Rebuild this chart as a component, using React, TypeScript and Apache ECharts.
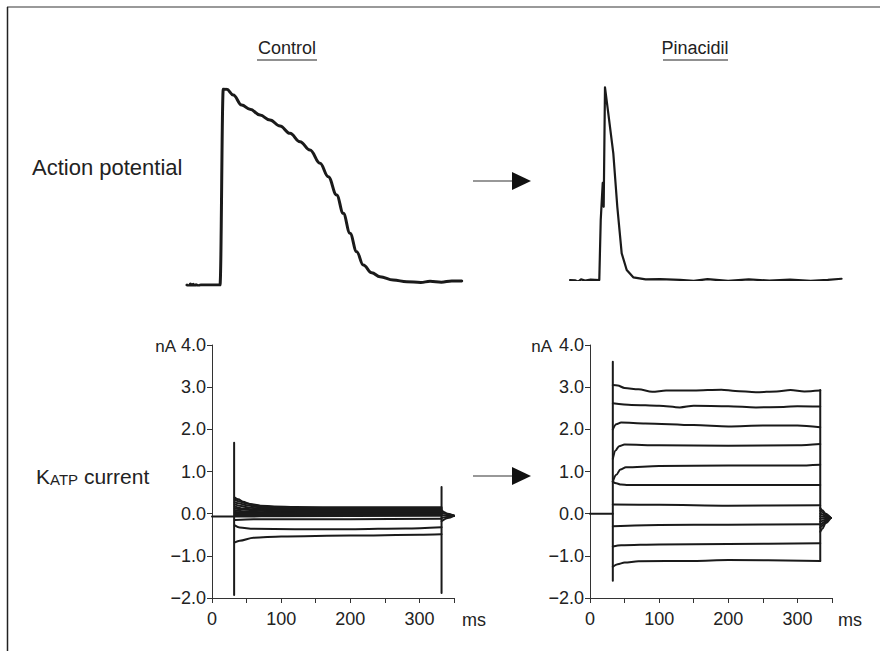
import React, { useEffect, useRef } from "react";
import * as echarts from "echarts";

// ---- Action potentials (time ms, membrane potential mV) ----
const controlAP: [number, number][] = [
  [0, -85], [3, -85.8], [5, -84.4], [7, -85.8], [9, -84.6], [11, -85.8], [13, -84.8], [16, -85.5], [20, -85], [48, -85],
  [52.8, 40], [57.7, 39.8], [67.3, 36.2], [79.5, 29.8], [91.6, 27.1], [106.2, 23.4], [120.7, 20.2],
  [135.3, 16.4], [149.8, 11.7], [164.4, 6.4], [178.9, 1.1], [193.5, -7.4], [205.5, -15.9], [217.7, -27.6],
  [227.3, -39.3], [237.1, -52], [246.8, -63.8], [256.4, -72.3], [268.7, -77.2], [280.7, -79.7],
  [300, -81.8], [319.6, -82.9], [340, -83.4], [353.5, -82.6], [370, -83.2], [385, -82.4], [399.6, -82.5],
];
const pinacidilAP: [number, number][] = [
  [0, -85], [8, -85.3], [12, -86], [16, -84.6], [22, -85.4], [30, -84.8], [42.6, -85],
  [44.7, -46.7], [47.6, -23.1], [49, -38.3], [50.9, 37.9], [55.7, 21.3], [63, -4.2], [68.8, -38.3],
  [75.2, -68], [82.5, -78.6], [92, -83.3], [110, -84.6], [131, -84.4], [160, -84.9], [180, -85.6],
  [200, -84.5], [230, -85.6], [260, -84.6], [290, -85.4], [320, -84.8], [350, -85.5], [375, -84.9], [395, -84.2],
];

// ---- KATP current, control (time ms, nA) ----
const controlHolding: [number, number][] = [[0, -0.07], [32, -0.07]];
const controlStepOn: [number, number][] = [[32, 1.68], [32, -1.93]];
const controlStepOff: [number, number][] = [[332, 0.63], [332, -1.88]];
const controlTraces: [number, number][][] = [
  [[33, 0.38], [38, 0.34], [45, 0.28], [55, 0.23], [70, 0.19], [90, 0.17], [120, 0.16], [200, 0.15], [300, 0.15], [332, 0.15]],
  [[33, 0.33], [40, 0.29], [50, 0.24], [65, 0.19], [90, 0.15], [130, 0.13], [250, 0.13], [332, 0.13]],
  [[33, 0.27], [40, 0.24], [50, 0.2], [65, 0.16], [90, 0.13], [130, 0.11], [250, 0.11], [332, 0.11]],
  [[33, 0.22], [42, 0.18], [55, 0.14], [80, 0.11], [120, 0.09], [250, 0.09], [332, 0.09]],
  [[33, 0.17], [45, 0.12], [65, 0.09], [100, 0.07], [250, 0.07], [332, 0.07]],
  [[33, 0.12], [45, 0.1], [65, 0.07], [100, 0.05], [250, 0.05], [332, 0.05]],
  [[33, 0.08], [50, 0.05], [80, 0.03], [200, 0.03], [332, 0.03]],
  [[33, 0.04], [60, 0.02], [200, 0.01], [332, 0.01]],
  [[33, 0.0], [60, 0.0], [200, -0.01], [332, -0.01]],
  [[33, -0.03], [60, -0.03], [200, -0.03], [332, -0.03]],
  [[33, -0.07], [100, -0.06], [332, -0.05]],
  [[33, -0.15], [60, -0.13], [200, -0.13], [332, -0.12]],
  [[33, -0.28], [40, -0.33], [60, -0.36], [120, -0.37], [200, -0.37], [280, -0.35], [332, -0.32]],
  [[33, -0.68], [40, -0.64], [60, -0.57], [100, -0.54], [200, -0.52], [300, -0.5], [332, -0.49]],
];
const controlTail: [number, number][][] = [
  [[332, 0.08], [341, 0.0], [350, -0.05]],
  [[332, 0.02], [350, -0.05]],
  [[332, -0.04], [350, -0.05]],
  [[332, -0.1], [350, -0.05]],
  [[332, -0.18], [341, -0.1], [350, -0.05]],
];

// ---- KATP current, pinacidil (time ms, nA) ----
const pinHolding: [number, number][] = [[0, 0.0], [33, 0.0]];
const pinStepOn: [number, number][] = [[33, 3.6], [33, -1.59]];
const pinStepOff: [number, number][] = [[333, 2.93], [333, -1.12]];
const pinTraces: [number, number][][] = [
  [[33, 3.05], [40, 3.04], [50, 2.98], [70, 2.95], [90, 2.89], [110, 2.92], [150, 2.92], [190, 2.94], [210, 2.91], [240, 2.88], [270, 2.9], [290, 2.93], [310, 2.9], [333, 2.92]],
  [[33, 2.62], [60, 2.58], [100, 2.56], [130, 2.52], [150, 2.56], [200, 2.55], [240, 2.52], [280, 2.53], [300, 2.55], [333, 2.54]],
  [[33, 2.0], [38, 2.12], [45, 2.16], [80, 2.14], [150, 2.1], [200, 2.07], [250, 2.09], [300, 2.09], [333, 2.05]],
  [[33, 1.3], [37, 1.5], [42, 1.6], [50, 1.64], [100, 1.62], [200, 1.61], [300, 1.62], [333, 1.65]],
  [[33, 0.76], [38, 0.92], [44, 1.05], [52, 1.1], [100, 1.13], [200, 1.14], [300, 1.14], [333, 1.16]],
  [[33, 0.76], [38, 0.72], [45, 0.69], [55, 0.68], [200, 0.68], [333, 0.68]],
  [[33, 0.22], [100, 0.21], [200, 0.19], [333, 0.2]],
  [[33, -0.3], [100, -0.27], [200, -0.26], [333, -0.25]],
  [[33, -0.78], [45, -0.75], [100, -0.73], [200, -0.72], [333, -0.7]],
  [[33, -1.26], [40, -1.2], [50, -1.16], [70, -1.13], [150, -1.12], [200, -1.1], [333, -1.12]],
];
const pinTail: [number, number][][] = [
  [[333, 0.13], [336, 0.08], [341, 0.0], [348, -0.1]],
  [[333, 0.07], [348, -0.1]],
  [[333, 0.0], [348, -0.1]],
  [[333, -0.06], [348, -0.1]],
  [[333, -0.12], [348, -0.1]],
  [[333, -0.19], [348, -0.1]],
  [[333, -0.26], [348, -0.1]],
  [[333, -0.33], [348, -0.1]],
  [[333, -0.43], [336, -0.36], [341, -0.22], [348, -0.1]],
];

const xRange = [0, 350];
const yRange = [-2, 4];
const INK = "#1a1a1a";
const FONT = "Liberation Sans, Arial, Helvetica, sans-serif";

function trace(data: [number, number][], idx: number, width: number, smooth: number | false = false) {
  return {
    type: "line",
    xAxisIndex: idx,
    yAxisIndex: idx,
    data,
    symbol: "none",
    smooth,
    smoothMonotone: "x",
    lineStyle: { color: INK, width, join: "round", cap: "round" },
    silent: true,
  };
}

function currentXAxis(gridIndex: number) {
  return {
    type: "value",
    gridIndex,
    min: xRange[0],
    max: xRange[1],
    interval: 50,
    axisLine: { show: true, onZero: false, lineStyle: { color: "#333", width: 1 } },
    axisTick: { show: true, length: 5, lineStyle: { color: "#333" } },
    axisLabel: {
      margin: 12,
      fontSize: 18,
      fontFamily: FONT,
      color: "#222",
      formatter: (v: number) => (v % 100 === 0 ? String(v) : ""),
    },
    splitLine: { show: false },
  };
}

function currentYAxis(gridIndex: number) {
  return {
    type: "value",
    gridIndex,
    min: yRange[0],
    max: yRange[1],
    interval: 1,
    axisLine: { show: true, onZero: false, lineStyle: { color: "#333", width: 1 } },
    axisTick: { show: true, length: 5, lineStyle: { color: "#333" } },
    axisLabel: {
      margin: 6,
      fontSize: 18,
      fontFamily: FONT,
      color: "#222",
      formatter: (v: number) => (v < 0 ? "\u2212" + Math.abs(v).toFixed(1) : v.toFixed(1)),
    },
    splitLine: { show: false },
  };
}

function hiddenAxis(gridIndex: number, min: number, max: number) {
  return { type: "value", gridIndex, min, max, show: false, splitLine: { show: false } };
}

export default function App() {
  const ref = useRef<HTMLDivElement>(null);
  useEffect(() => {
    if (!ref.current) return;
    const chart = echarts.init(ref.current, undefined, { renderer: "svg" });
    const series: any[] = [
      trace(controlAP, 0, 3, 0.4),
      trace(pinacidilAP, 1, 2.2, false),
      trace(controlHolding, 2, 2),
      trace(controlStepOn, 2, 2),
      trace(controlStepOff, 2, 2),
      ...controlTraces.map((d) => trace(d, 2, 2, 0.3)),
      ...controlTail.map((d) => trace(d, 2, 2, 0.3)),
      trace(pinHolding, 3, 2),
      trace(pinStepOn, 3, 2),
      trace(pinStepOff, 3, 2),
      ...pinTraces.map((d) => trace(d, 3, 2, 0.3)),
      ...pinTail.map((d) => trace(d, 3, 2, 0.3)),
    ];
    const txt = (x: number, y: number, text: string, size: number, extra: any = {}) => ({
      type: "text",
      x,
      y,
      style: { text, fontSize: size, fontFamily: FONT, fill: "#222", textVerticalAlign: "middle", ...extra },
    });
    const arrow = (y: number) => [
      { type: "line", shape: { x1: 473, y1: y, x2: 514, y2: y }, style: { stroke: "#333", lineWidth: 1.2 } },
      { type: "polygon", shape: { points: [[512, y - 9], [531, y], [512, y + 9]] }, style: { fill: "#111" } },
    ];
    chart.setOption({
      animation: false,
      backgroundColor: "#fff",
      grid: [
        { left: 187, width: 275, top: 89, height: 196 },
        { left: 570, width: 275, top: 84, height: 196 },
        { left: 212, width: 242, top: 345, height: 253 },
        { left: 590, width: 242, top: 345, height: 253 },
      ],
      xAxis: [hiddenAxis(0, 0, 400), hiddenAxis(1, 0, 400), currentXAxis(2), currentXAxis(3)],
      yAxis: [hiddenAxis(0, -85, 40), hiddenAxis(1, -85, 40), currentYAxis(2), currentYAxis(3)],
      series,
      graphic: [
        { type: "line", shape: { x1: 7, y1: 7, x2: 880, y2: 7 }, style: { stroke: "#999", lineWidth: 2 } },
        { type: "line", shape: { x1: 7.5, y1: 7, x2: 7.5, y2: 651 }, style: { stroke: "#222", lineWidth: 1.5 } },
        txt(287, 48, "Control", 18, { textAlign: "center" }),
        { type: "line", shape: { x1: 257, y1: 60, x2: 317, y2: 60 }, style: { stroke: "#222", lineWidth: 1.2 } },
        txt(695, 48, "Pinacidil", 18, { textAlign: "center" }),
        { type: "line", shape: { x1: 663, y1: 60, x2: 728, y2: 60 }, style: { stroke: "#222", lineWidth: 1.2 } },
        txt(32, 167, "Action potential", 22),
        {
          type: "text",
          x: 36,
          y: 476,
          style: {
            text: "{k|K}{s|ATP}{n| current}",
            fontFamily: FONT,
            fill: "#222",
            textVerticalAlign: "middle",
            rich: {
              k: { fontSize: 21, fontFamily: FONT, fill: "#222", verticalAlign: "bottom" },
              s: { fontSize: 15, fontFamily: FONT, fill: "#222", verticalAlign: "bottom" },
              n: { fontSize: 21, fontFamily: FONT, fill: "#222", verticalAlign: "bottom" },
            },
          },
        },
        ...arrow(181),
        ...arrow(476),
        txt(176, 346, "nA", 17, { textAlign: "right" }),
        txt(552, 346, "nA", 17, { textAlign: "right" }),
        txt(462, 620, "ms", 18),
        txt(838, 620, "ms", 18),
      ],
    });
    return () => chart.dispose();
  }, []);
  return <div ref={ref} style={{ position: "fixed", left: 0, top: 0, width: 880, height: 651 }} />;
}
